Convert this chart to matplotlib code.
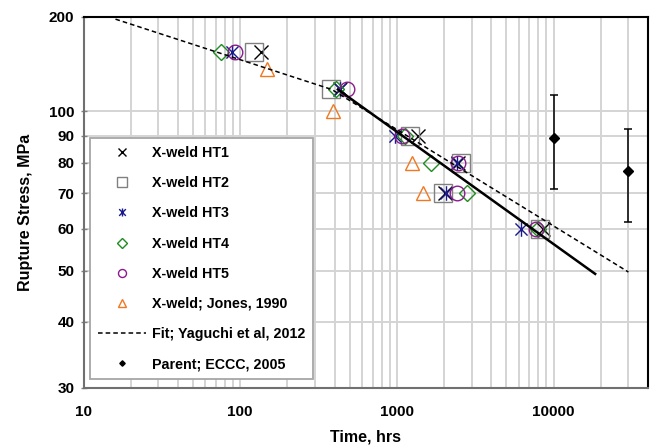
import numpy as np
import matplotlib
matplotlib.use("Agg")
import matplotlib.pyplot as plt
from matplotlib.path import Path
from matplotlib.lines import Line2D

plt.rcParams['font.family'] = ['Liberation Sans', 'DejaVu Sans']
plt.rcParams['font.weight'] = 'bold'

# rupture data, time in hours, stress in MPa
ht1_t = [136, 435, 1372, 2450, 2020, 8510]
ht1_s = [150, 110, 90, 80, 70, 60]
ht2_t = [123, 378, 1215, 2558, 1976, 8132]
ht2_s = [150, 110, 90, 80, 70, 60]
ht3_t = [88, 432, 975, 2400, 2054, 6177]
ht3_s = [150, 110, 90, 80, 70, 60]
ht4_t = [75, 406, 1129, 1651, 2780, 7940]
ht4_s = [150, 110, 90, 80, 70, 60]
ht5_t = [93, 481, 1076, 2437, 2400, 7664]
ht5_s = [150, 110, 90, 80, 70, 60]
jones_t = [148, 393, 1256, 1475]
jones_s = [130, 100, 80, 70]

# Yaguchi fit line and the HT trend line
fit_t = [16, 384, 30000]
fit_s = [196, 110, 49.7]
trend_t = [420, 18400]
trend_s = [110, 49.3]

# parent metal with scatter band
parent_t = [10000, 30000]
parent_s = [89, 77]
parent_err_lo = [17.7, 15.3]
parent_err_hi = [18.2, 15.6]

y_ticks = [30, 40, 50, 60, 70, 80, 90, 100, 200]
x_ticks = [10, 100, 1000, 10000]

# stress axis: log scale, compressed above 110 MPa
L0 = np.log10(110)
K = 0.53


def fwd(y):
    ly = np.log10(np.clip(np.asarray(y, dtype=float), 1e-6, None))
    return np.where(ly > L0, L0 + K * (ly - L0), ly)


def inv(v):
    v = np.asarray(v, dtype=float)
    return 10 ** np.where(v > L0, L0 + (v - L0) / K, v)


# asterisk marker: x with a vertical bar
star = Path([(-1, -1), (1, 1), (-1, 1), (1, -1), (0, -1.2), (0, 1.2)],
            [Path.MOVETO, Path.LINETO] * 3)

fig = plt.figure(figsize=(6.51, 4.48), dpi=100)
ax = fig.add_axes([83.5 / 651, 1 - 388 / 448, 564.5 / 651, 371.3 / 448])

ms = 10.5
mk = dict(linestyle='none', markerfacecolor='none', markeredgewidth=1.0, markersize=ms)
h1, = ax.plot(ht1_t, ht1_s, marker='x', color='black', label='X-weld HT1', **mk)
h2, = ax.plot(ht2_t, ht2_s, marker='s', color='#808080', label='X-weld HT2',
              **dict(mk, markersize=ms * 1.2))
h3, = ax.plot(ht3_t, ht3_s, marker=star, color='#1a1a8c', label='X-weld HT3', **mk)
h4, = ax.plot(ht4_t, ht4_s, marker='D', color='#1e8c1e', label='X-weld HT4',
              **dict(mk, markersize=ms * 0.8))
h5, = ax.plot(ht5_t, ht5_s, marker='o', color='#8c1a8c', label='X-weld HT5', **mk)
h6, = ax.plot(jones_t, jones_s, marker='^', color='#f07820', label='X-weld; Jones, 1990', **mk)

h7, = ax.plot(fit_t, fit_s, color='black', linestyle=(0, (3, 2)), linewidth=1.1,
              label='Fit; Yaguchi et al, 2012')
ax.plot(trend_t, trend_s, color='black', linewidth=1.8)

ax.errorbar(parent_t, parent_s, yerr=[parent_err_lo, parent_err_hi], fmt='D',
            color='black', markersize=5, elinewidth=1.1, capsize=3, capthick=1.1)
h8 = Line2D([], [], marker='D', color='black', linestyle='none', markersize=5,
            label='Parent; ECCC, 2005')

ax.set_xscale('log')
ax.set_yscale('function', functions=(fwd, inv))
ax.set_xlim(10, 40000)
ax.set_ylim(30, 200)

ax.set_xticks(x_ticks)
ax.set_xticklabels([str(v) for v in x_ticks])
minor_x = [m * 10 ** d for d in range(1, 5) for m in range(2, 10) if m * 10 ** d < 40000]
ax.set_xticks(minor_x, minor=True)
ax.set_xticklabels([], minor=True)
ax.set_yticks(y_ticks)
ax.set_yticklabels([str(v) for v in y_ticks])
ax.set_yticks([], minor=True)

ax.tick_params(axis='x', which='both', length=0, pad=12, labelsize=11)
ax.tick_params(axis='y', which='major', direction='inout', length=5, width=1,
               color='#808080', pad=4, labelsize=11)

ax.set_axisbelow(True)
ax.grid(which='both', axis='x', color='#d4d4d4', linewidth=1.4)
ax.grid(which='major', axis='y', color='#d4d4d4', linewidth=1.4)

for side in ['left', 'bottom']:
    ax.spines[side].set_color('#707070')
    ax.spines[side].set_linewidth(1.5)
for side in ['top', 'right']:
    ax.spines[side].set_color('black')
    ax.spines[side].set_linewidth(1.5)

ax.set_xlabel('Time, hrs', fontsize=11.5, fontweight='bold')
ax.set_ylabel('Rupture Stress, MPa', fontsize=11.5, fontweight='bold')
ax.xaxis.set_label_coords(0.5, -0.113)
ax.yaxis.set_label_coords(-0.09, 0.474)

leg = ax.legend(handles=[h1, h2, h3, h4, h5, h6, h7, h8],
                loc='upper left', bbox_to_anchor=(0.0115, 0.6725), borderaxespad=0,
                prop={'size': 10.3, 'weight': 'bold'}, markerscale=0.55,
                handlelength=3.4, handletextpad=0.4, labelspacing=1.13,
                borderpad=0.55, fancybox=False, framealpha=1, edgecolor='#a6a6a6')
leg.get_frame().set_linewidth(1.3)

fig.savefig('out.png', dpi=100)
